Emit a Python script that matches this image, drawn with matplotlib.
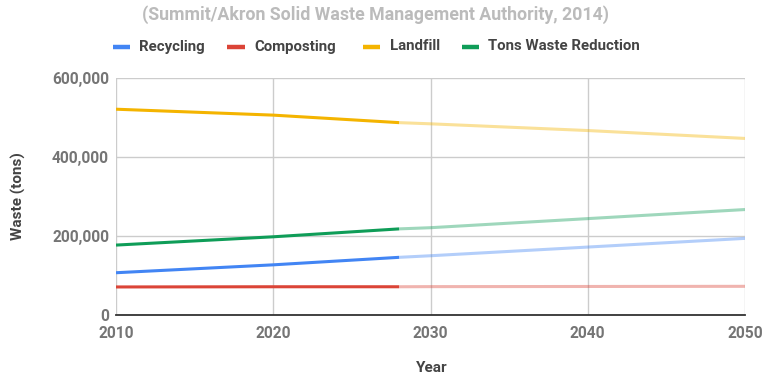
import matplotlib
matplotlib.use("Agg")
import matplotlib.pyplot as plt
from matplotlib.lines import Line2D
from matplotlib.ticker import FuncFormatter

plt.rcParams['font.family'] = ['Roboto', 'DejaVu Sans']

# Historical / planned period (solid) and projection period (faded)
years_actual = [2010, 2020, 2028]
years_proj = [2028, 2030, 2040, 2050]

recycling_actual = [107000, 127000, 146000]
recycling_proj = [146000, 150000, 172000, 194000]
composting_actual = [71000, 71500, 71500]
composting_proj = [71500, 71800, 72200, 72600]
landfill_actual = [521000, 506000, 487000]
landfill_proj = [487000, 484000, 467000, 447000]
reduction_actual = [177000, 198000, 218000]
reduction_proj = [218000, 221000, 244000, 267000]

series_names = ["Recycling", "Composting", "Landfill", "Tons Waste Reduction"]
colors = ["#4285F4", "#DB4437", "#F4B400", "#0F9D58"]

x_ticks = [2010, 2020, 2030, 2040, 2050]
y_ticks = [0, 200000, 400000, 600000]

W, H = 778, 381
fig = plt.figure(figsize=(W / 100, H / 100), dpi=100)
ax = fig.add_axes([116 / W, 1 - 315 / H, 629 / W, 237 / H])

actual = [recycling_actual, composting_actual, landfill_actual, reduction_actual]
proj = [recycling_proj, composting_proj, landfill_proj, reduction_proj]
for a, p, c in zip(actual, proj, colors):
    ax.plot(years_proj, p, color=c, lw=2.2, alpha=0.4, solid_capstyle='butt', zorder=3)
    ax.plot(years_actual, a, color=c, lw=2.2, solid_capstyle='butt', zorder=4)

ax.set_xlim(2010, 2050)
ax.set_ylim(0, 600000)
ax.set_xticks(x_ticks)
ax.set_yticks(y_ticks)
ax.yaxis.set_major_formatter(FuncFormatter(lambda v, _: f"{int(v):,}"))
ax.grid(True, color="#cccccc", lw=1)
ax.set_axisbelow(True)
for s in ["top", "left", "right"]:
    ax.spines[s].set_visible(False)
ax.spines["bottom"].set_color("#333333")
ax.spines["bottom"].set_linewidth(1.3)
ax.spines["bottom"].set_zorder(5)
ax.tick_params(length=0, labelsize=11.2, labelcolor="#757575")
ax.tick_params(axis='x', pad=8)
ax.tick_params(axis='y', pad=5)
for lab in ax.get_xticklabels() + ax.get_yticklabels():
    lab.set_fontweight("bold")

ax.set_ylabel("Waste (tons)", fontsize=11, fontweight="bold", color="#444444")
ax.yaxis.set_label_coords((26 - 116) / 629, 0.5)
fig.text(432 / W, 1 - 368 / H, "Year", ha="center", va="center", fontsize=11,
         fontweight="bold", color="#444444")

fig.text(376 / W, 1 - 15 / H, "(Summit/Akron Solid Waste Management Authority, 2014)",
         ha="center", va="center", fontsize=12.75, fontweight="bold", color="#bbbbbb")

# Legend drawn in figure pixels
leg_y = 1 - 46.5 / H
marker_x = [112.5, 227.5, 363, 461.5]
for mx, name, c in zip(marker_x, series_names, colors):
    fig.add_artist(Line2D([mx / W, (mx + 17) / W], [leg_y, leg_y], color=c, lw=3.2,
                          solid_capstyle='butt', transform=fig.transFigure))
    fig.text((mx + 27) / W, leg_y, name, ha="left", va="center", fontsize=10.85,
             fontweight="bold", color="#444444")

fig.savefig("out.png", dpi=100)
